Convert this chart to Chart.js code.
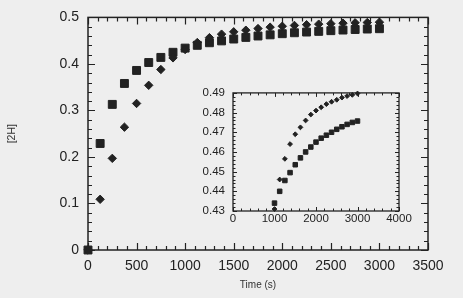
<!DOCTYPE html>
<html>
<head>
<meta charset="utf-8">
<script src="https://cdn.jsdelivr.net/npm/chart.js@4/dist/chart.umd.min.js"></script>
<style>
  html, body { margin: 0; padding: 0; background: #eeeeee; }
  #wrap { position: relative; width: 463px; height: 298px; background: #eeeeee; }
  canvas { position: absolute; }
</style>
</head>
<body>
<div id="wrap">
  <canvas id="main" width="463" height="298" style="left:0;top:0"></canvas>
  <canvas id="inset" width="230" height="150" style="left:190px;top:78px"></canvas>
</div>
<script>
// ---- data ----
const timeS = [0,125,250,375,500,625,750,875,1000,1125,1250,1375,1500,1625,1750,1875,2000,2125,2250,2375,2500,2625,2750,2875,3000];
const squareH = [0,0.229,0.313,0.358,0.386,0.403,0.414,0.425,0.434,0.440,0.4455,0.4495,0.4535,0.457,0.460,0.4625,0.465,0.467,0.4685,0.470,0.4715,0.4728,0.474,0.475,0.4757];
const diamondH = [0,0.109,0.197,0.264,0.315,0.354,0.388,0.413,0.431,0.446,0.4565,0.464,0.469,0.4725,0.476,0.479,0.481,0.4827,0.4843,0.4855,0.4865,0.4876,0.4884,0.489,0.4897];
const insetStart = 1000;
const xTitle = 'Time (s)';
const yTitle = '[2H]';

const INK = '#222222';
const FONT = "'Liberation Sans', Arial, Helvetica, sans-serif";

function pts(xs, ys, from) {
  const out = [];
  xs.forEach((x, i) => { if (x >= from) out.push({x: x, y: ys[i]}); });
  return out;
}

// frame + inward ticks on all four sides
const frameTicks = {
  id: 'frameTicks',
  beforeDatasetsDraw(chart, args, o) {
    const {ctx, chartArea: a, scales} = chart;
    const xs = scales.x, ys = scales.y;
    ctx.save();
    ctx.strokeStyle = INK;
    ctx.lineWidth = o.frameWidth;
    ctx.strokeRect(a.left, a.top, a.right - a.left, a.bottom - a.top);
    ctx.lineWidth = o.tickWidth;
    ctx.beginPath();
    const isMaj = (v, m) => Math.abs(v / m - Math.round(v / m)) < 1e-6;
    const nx = Math.round((xs.max - xs.min) / o.xMinor);
    for (let i = 0; i <= nx; i++) {
      const v = xs.min + i * o.xMinor;
      const p = Math.round(xs.getPixelForValue(v)) + 0.5;
      const L = isMaj(v, o.xMajor) ? o.majLen : o.minLen;
      ctx.moveTo(p, a.bottom); ctx.lineTo(p, a.bottom - L);
      ctx.moveTo(p, a.top); ctx.lineTo(p, a.top + L);
    }
    const ny = Math.round((ys.max - ys.min) / o.yMinor);
    for (let i = 0; i <= ny; i++) {
      const v = ys.min + i * o.yMinor;
      const p = Math.round(ys.getPixelForValue(v)) + 0.5;
      const L = isMaj(v - ys.min, o.yMajor) ? o.majLen : o.minLen;
      ctx.moveTo(a.left, p); ctx.lineTo(a.left + L, p);
      ctx.moveTo(a.right, p); ctx.lineTo(a.right - L, p);
    }
    ctx.stroke();
    ctx.restore();
  }
};

function bg(color) {
  return {
    id: 'bg',
    beforeDraw(chart) {
      const c = chart.ctx;
      c.save(); c.fillStyle = color; c.fillRect(0, 0, chart.width, chart.height); c.restore();
    }
  };
}

// ---- main chart ----
new Chart(document.getElementById('main'), {
  type: 'scatter',
  data: {
    datasets: [
      { data: pts(timeS, diamondH, 0), pointStyle: 'rectRot', pointRadius: 4.2,
        backgroundColor: INK, borderColor: INK, borderWidth: 1, clip: false },
      { data: pts(timeS, squareH, 0), pointStyle: 'rect', pointRadius: 5.6,
        backgroundColor: INK, borderColor: INK, borderWidth: 1, clip: false }
    ]
  },
  options: {
    responsive: false, animation: false, devicePixelRatio: 1,
    layout: { padding: { left: 0, top: 17, right: 35, bottom: 0 } },
    plugins: {
      legend: { display: false }, tooltip: { enabled: false },
      frameTicks: { frameWidth: 1.5, tickWidth: 1.2, xMinor: 100, xMajor: 500, yMinor: 0.02, yMajor: 0.1, majLen: 7, minLen: 4 }
    },
    scales: {
      x: {
        type: 'linear', min: 0, max: 3500,
        grid: { display: false, drawTicks: false },
        border: { display: false },
        ticks: { stepSize: 500, padding: 8, color: '#222', font: { family: FONT, size: 14 },
                 maxRotation: 0, autoSkip: false, callback: v => String(v) },
        title: { display: true, text: xTitle, color: '#333', font: { family: FONT, size: 10 }, padding: { top: 0, bottom: 7 } },
        afterFit: s => { s.height = 48; }
      },
      y: {
        type: 'linear', min: 0, max: 0.5,
        grid: { display: false, drawTicks: false },
        border: { display: false },
        ticks: { stepSize: 0.1, padding: 9, color: '#222', font: { family: FONT, size: 14 },
                 callback: v => String(Math.round(v * 10) / 10) },
        title: { display: true, text: yTitle, color: '#333', font: { family: FONT, size: 10.5 }, padding: { top: 6, bottom: 0 } },
        afterFit: s => { s.width = 88; }
      }
    }
  },
  plugins: [bg('#eeeeee'), frameTicks]
});

// ---- inset chart ----
new Chart(document.getElementById('inset'), {
  type: 'scatter',
  data: {
    datasets: [
      { data: pts(timeS, diamondH, insetStart), pointStyle: 'rectRot', pointRadius: 2.4,
        backgroundColor: INK, borderColor: INK, borderWidth: 1, clip: false },
      { data: pts(timeS, squareH, insetStart), pointStyle: 'rect', pointRadius: 3.2,
        backgroundColor: INK, borderColor: INK, borderWidth: 1, clip: false }
    ]
  },
  options: {
    responsive: false, animation: false, devicePixelRatio: 1,
    layout: { padding: { left: 0, top: 10, right: 21, bottom: 0 } },
    plugins: {
      legend: { display: false }, tooltip: { enabled: false },
      frameTicks: { frameWidth: 1.3, tickWidth: 1, xMinor: 200, xMajor: 1000, yMinor: 0.002, yMajor: 0.01, majLen: 4, minLen: 2.5 }
    },
    scales: {
      x: {
        type: 'linear', min: 0, max: 4000,
        grid: { display: false, drawTicks: false },
        border: { display: false },
        ticks: { stepSize: 1000, padding: 1, color: '#222', font: { family: FONT, size: 11.5 },
                 maxRotation: 0, autoSkip: false, callback: v => String(v) },
        afterFit: s => { s.height = 17; }
      },
      y: {
        type: 'linear', min: 0.43, max: 0.49,
        grid: { display: false, drawTicks: false },
        border: { display: false },
        ticks: { stepSize: 0.01, padding: 8, color: '#222', font: { family: FONT, size: 11.5 },
                 callback: v => (Math.round(v * 100) / 100).toFixed(2) },
        afterFit: s => { s.width = 43; }
      }
    }
  },
  plugins: [bg('#eeeeee'), frameTicks]
});
</script>
</body>
</html>
